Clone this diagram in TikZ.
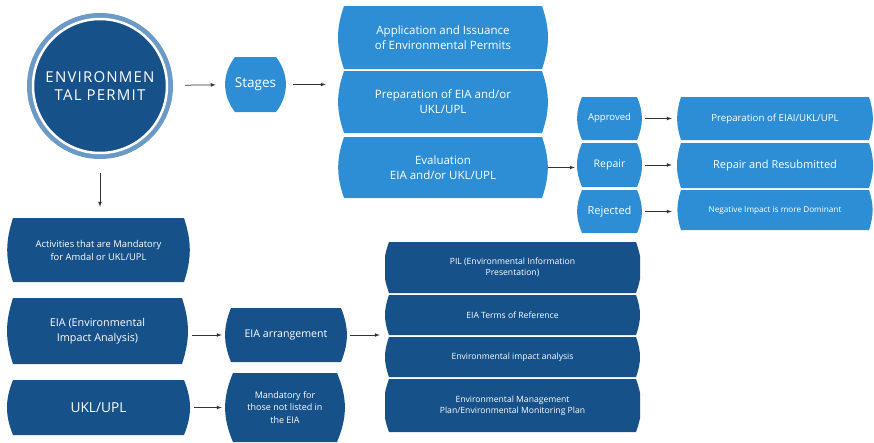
\documentclass[tikz,border=0pt]{standalone}
\usepackage{fontspec}
\setmainfont{Open Sans}
\newfontfamily\spacedfont[LetterSpace=8]{Open Sans}
\usetikzlibrary{arrows}

\definecolor{liteblue}{HTML}{2D8ED5}
\definecolor{darkblue}{HTML}{165189}
\definecolor{ringblue}{HTML}{6B9AC7}
\definecolor{linegray}{HTML}{333333}

\tikzset{
  bulge/.store in=\bulgeb, bulge=6pt,
  sideang/.store in=\sideang, sideang=20,
  blob/.style={text=white, align=center, inner sep=0pt,
    font=\fontsize{9}{12}\selectfont,
    path picture={
      \fill[#1] ([xshift=\bulgeb]path picture bounding box.north west)
        -- ([xshift=-\bulgeb]path picture bounding box.north east)
        to[bend left=\sideang] ([xshift=-\bulgeb]path picture bounding box.south east)
        -- ([xshift=\bulgeb]path picture bounding box.south west)
        to[bend left=\sideang] ([xshift=\bulgeb]path picture bounding box.north west)
        -- cycle;}},
  link/.style={->, >=latex, draw=linegray, line width=.75pt}
}

\begin{document}
\begin{tikzpicture}[x=1pt, y=-1pt]
\useasboundingbox (0,0) rectangle (874,442);

% permit and stages
\node[circle, minimum size=134pt, fill=darkblue, draw=white, line width=2.5pt,
  preaction={draw=ringblue, line width=12pt}, text=white, align=center,
  font=\spacedfont\fontsize{15}{18}\selectfont] (permit) at (100,86) {ENVIRONMEN\\TAL PERMIT};
\node[blob=liteblue, minimum width=61pt, minimum height=55pt, bulge=10pt, sideang=38,
  font=\fontsize{13.5}{15}\selectfont] (stages) at (255.5,84.5) {Stages};

\node[blob=liteblue, minimum width=210pt, minimum height=63pt, sideang=19,
  font=\fontsize{11.5}{15}\selectfont] (apply) at (443,37.5) {Application and Issuance\\of Environmental Permits};
\node[blob=liteblue, minimum width=210pt, minimum height=62pt, sideang=19,
  font=\fontsize{11.5}{15}\selectfont] (prep) at (443,102) {Preparation of EIA and/or\\UKL/UPL};
\node[blob=liteblue, minimum width=210pt, minimum height=61pt, sideang=19,
  font=\fontsize{11.5}{15}\selectfont] (eval) at (443,167.5) {Evaluation\\EIA and/or UKL/UPL};

% results of evaluation
\node[blob=liteblue, minimum width=65pt, minimum height=43pt, bulge=5pt, sideang=23,
  font=\fontsize{9.5}{11}\selectfont] (approved) at (609.5,118.5) {Approved};
\node[blob=liteblue, minimum width=65pt, minimum height=44pt, bulge=5pt, sideang=23,
  font=\fontsize{10.5}{12}\selectfont] (repair) at (609.5,165) {Repair};
\node[blob=liteblue, minimum width=65pt, minimum height=43pt, bulge=5pt, sideang=23,
  font=\fontsize{11}{12}\selectfont] (rejected) at (609.5,211.5) {Rejected};

\node[blob=liteblue, minimum width=196pt, minimum height=43pt, bulge=4pt, sideang=18,
  font=\fontsize{9.7}{11}\selectfont] (r1) at (775,118.5) {Preparation of EIAI/UKL/UPL};
\node[blob=liteblue, minimum width=196pt, minimum height=45pt, bulge=4pt, sideang=18,
  font=\fontsize{11}{13}\selectfont] (r2) at (775,165.5) {Repair and Resubmitted};
\node[blob=liteblue, minimum width=196pt, minimum height=40pt, bulge=4pt, sideang=18,
  font=\fontsize{8.2}{10}\selectfont] (r3) at (775,210) {Negative Impact is more Dominant};

% mandatory activities
\node[blob=darkblue, minimum width=183pt, minimum height=64pt, sideang=18,
  font=\fontsize{9.4}{13}\selectfont] (act) at (98.5,250) {Activities that are Mandatory\\for Amdal or UKL/UPL};
\node[blob=darkblue, minimum width=181pt, minimum height=66pt, sideang=18,
  font=\fontsize{10.8}{15}\selectfont] (eia) at (97.5,331) {EIA (Environmental\\Impact Analysis)};
\node[blob=darkblue, minimum width=183pt, minimum height=55pt, sideang=22,
  font=\fontsize{13.7}{15}\selectfont] (ukl) at (98.5,407.5) {UKL/UPL};

\node[blob=darkblue, minimum width=122pt, minimum height=54pt, sideang=22,
  font=\fontsize{10.6}{12}\selectfont] (arrange) at (286,335) {EIA arrangement};
\node[blob=darkblue, minimum width=120pt, minimum height=69pt, bulge=8pt, sideang=23,
  font=\fontsize{9}{12.5}\selectfont] (mand) at (285,407.5) {Mandatory for\\those not listed in\\the EIA};

\node[blob=darkblue, minimum width=255pt, minimum height=51pt, bulge=4pt,
  font=\fontsize{8.6}{11}\selectfont] (pil) at (512.5,267.5) {PIL (Environmental Information\\Presentation)};
\node[blob=darkblue, minimum width=255pt, minimum height=40pt, bulge=4pt,
  font=\fontsize{8.6}{11}\selectfont] (tor) at (512.5,315) {EIA Terms of Reference};
\node[blob=darkblue, minimum width=255pt, minimum height=40pt, bulge=4pt,
  font=\fontsize{8.6}{11}\selectfont] (ana) at (512.5,357) {Environmental impact analysis};
\node[blob=darkblue, minimum width=255pt, minimum height=53pt, bulge=4pt,
  font=\fontsize{8.6}{11}\selectfont] (emp) at (512.5,405.5) {Environmental Management\\Plan/Environmental Monitoring Plan};

% arrows
\draw[link, shorten <=17pt, shorten >=9pt] (permit) -- (stages);
\draw[link, shorten <=7pt, shorten >=12pt] (stages) -- (stages -| prep.west);
\draw[link, shorten >=2pt] (eval) -- (eval -| repair.west);
\draw[link, shorten <=3pt, shorten >=5pt] (approved) -- (r1);
\draw[link, shorten <=3pt, shorten >=5pt] (repair) -- (repair -| r2.west);
\draw[link, shorten <=3pt, shorten >=5pt] (rejected) -- (rejected -| r3.west);
\draw[link, shorten <=19pt, shorten >=11pt] (permit) -- (permit |- act.north);
\draw[link, shorten <=4pt, shorten >=3pt] (arrange -| eia.east) -- (arrange);
\draw[link, shorten <=4pt, shorten >=3pt] (ukl) -- (ukl -| mand.west);
\draw[link, shorten <=3pt, shorten >=5pt] (arrange) -- (arrange -| tor.west);
\end{tikzpicture}
\end{document}
